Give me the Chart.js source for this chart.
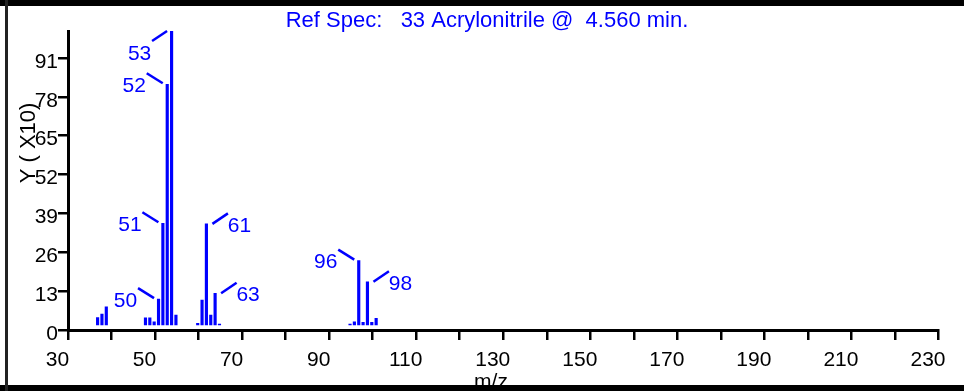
<!DOCTYPE html>
<html>
<head>
<meta charset="utf-8">
<script src="https://cdn.jsdelivr.net/npm/chart.js@4.4.0/dist/chart.umd.min.js"></script>
<style>
  html, body { margin: 0; padding: 0; background: #fff; }
  #wrap { width: 964px; height: 391px; }
</style>
</head>
<body>
<div id="wrap"><canvas id="spec" width="964" height="391"></canvas></div>
<script>
// Spectrum data (Y in X10 units, base peak = 100)
const masses      = [36, 37, 38, 47, 48, 49, 50, 51, 52, 53, 54, 59, 60, 61, 62, 63, 64, 94, 95, 96, 97, 98, 99, 100];
const intensities = [2.5, 3.7, 6.2, 2.4, 2.4, 1.1, 8.8, 34.6, 81.9, 100, 3.4, 0.6, 8.5, 34.4, 3.4, 10.8, 0.3, 0.3, 1.1, 21.9, 0.9, 14.7, 0.9, 2.3];
const labeledPeaks = [50, 51, 52, 53, 61, 63, 96, 98];
const rightLabels  = [61, 63, 98];

const yTicks  = [0, 13, 26, 39, 52, 65, 78, 91];
const xLabels = [30, 50, 70, 90, 110, 130, 150, 170, 190, 210, 230];

const titleText = 'Ref Spec:   33 Acrylonitrile @  4.560 min.';
const blue = 'rgb(0, 0, 255)';
const sans = '"Liberation Sans", Arial, sans-serif';

// peak labels with the little leader lines
const peakLabels = {
    id: 'peakLabels',
    afterDatasetsDraw(chart) {
        const ctx = chart.ctx;
        const xs = chart.scales.x2, ys = chart.scales.y2;
        ctx.save();
        ctx.strokeStyle = blue;
        ctx.fillStyle = blue;
        ctx.lineWidth = 2.5;
        ctx.font = '21px ' + sans;
        ctx.textAlign = 'center';
        ctx.textBaseline = 'middle';
        labeledPeaks.forEach(m => {
            const i = masses.indexOf(m);
            const px = xs.getPixelForValue(m);
            const py = ys.getPixelForValue(intensities[i]);
            let x1, y1, x2, y2, tx, ty;
            if (rightLabels.includes(m)) {
                x1 = px + 6; y1 = py; x2 = px + 21.5; y2 = py - 10.5;
                tx = px + 33; ty = py + 2;
            } else if (py - 11 < chart.chartArea.top) {
                x1 = px - 4.5; y1 = py; x2 = px - 19.5; y2 = py + 10;
                tx = px - 32; ty = py + 23.5;
            } else {
                x1 = px - 4.5; y1 = py - 1; x2 = px - 20.5; y2 = py - 11;
                tx = px - 33; ty = py + 2;
            }
            ctx.beginPath();
            ctx.moveTo(x1, y1);
            ctx.lineTo(x2, y2);
            ctx.stroke();
            ctx.fillText(String(m), tx, ty);
        });
        ctx.restore();
    }
};

// title, axis titles and the black frame
const frame = {
    id: 'frame',
    afterDraw(chart) {
        const ctx = chart.ctx;
        ctx.save();
        ctx.fillStyle = blue;
        ctx.font = '22px ' + sans;
        ctx.textAlign = 'center';
        ctx.textBaseline = 'alphabetic';
        ctx.fillText(titleText, 487, 27);

        ctx.fillStyle = '#000';
        ctx.font = '21px ' + sans;
        ctx.fillText('m/z', 491, 388);

        ctx.font = '22px ' + sans;
        ctx.translate(35, 143);
        ctx.rotate(-Math.PI / 2);
        ctx.fillText('Y ( X10)', 0, 0);
        ctx.restore();

        ctx.save();
        ctx.fillStyle = '#000';
        ctx.fillRect(0, 0, 964, 6);
        ctx.fillRect(0, 385, 964, 6);
        ctx.fillStyle = '#222';
        ctx.fillRect(5, 0, 3, 391);
        ctx.restore();
    }
};

const tickFont = { family: sans, size: 21 };

const ctx = document.getElementById('spec').getContext('2d');
const specChart = new Chart(ctx, {
    type: 'bar',
    data: {
        datasets: [{
            data: masses.map((m, i) => ({ x: m, y: intensities[i] })),
            backgroundColor: blue,
            borderWidth: 0,
            barThickness: 2.5,
            xAxisID: 'x2',
            yAxisID: 'y2'
        }]
    },
    options: {
        responsive: false,
        animation: false,
        layout: { padding: { top: 31, right: 25, left: 0, bottom: 0 } },
        plugins: {
            legend: { display: false },
            tooltip: { enabled: false }
        },
        scales: {
            x: {
                type: 'linear',
                min: 30,
                max: 230,
                offset: false,
                afterFit: s => { s.height = 61; },
                border: { color: '#000', width: 3 },
                grid: { offset: false, drawOnChartArea: false, color: '#000', lineWidth: 2.5, tickLength: 10 },
                ticks: {
                    stepSize: 10,
                    autoSkip: false,
                    maxRotation: 0,
                    color: '#000',
                    font: tickFont,
                    padding: 8,
                    labelOffset: -10.5,
                    callback: v => (xLabels.includes(v) ? String(v) : '')
                }
            },
            y: {
                type: 'linear',
                min: 0,
                max: 100,
                afterFit: s => { s.width = 68; },
                afterBuildTicks: s => { s.ticks = yTicks.map(v => ({ value: v })); },
                border: { color: '#000', width: 3 },
                grid: { drawOnChartArea: false, color: '#000', lineWidth: 2.5, tickLength: 10 },
                ticks: { color: '#000', font: tickFont, padding: 0, labelOffset: 4 }
            },
            // data axes: the spectrum sits a little right of and above the drawn axes
            x2: { type: 'linear', display: false, offset: false, grid: { offset: false }, min: 29.2, max: 229.2 },
            y2: { type: 'linear', display: false, min: -1.7, max: 100 }
        }
    },
    plugins: [peakLabels, frame]
});
</script>
</body>
</html>
